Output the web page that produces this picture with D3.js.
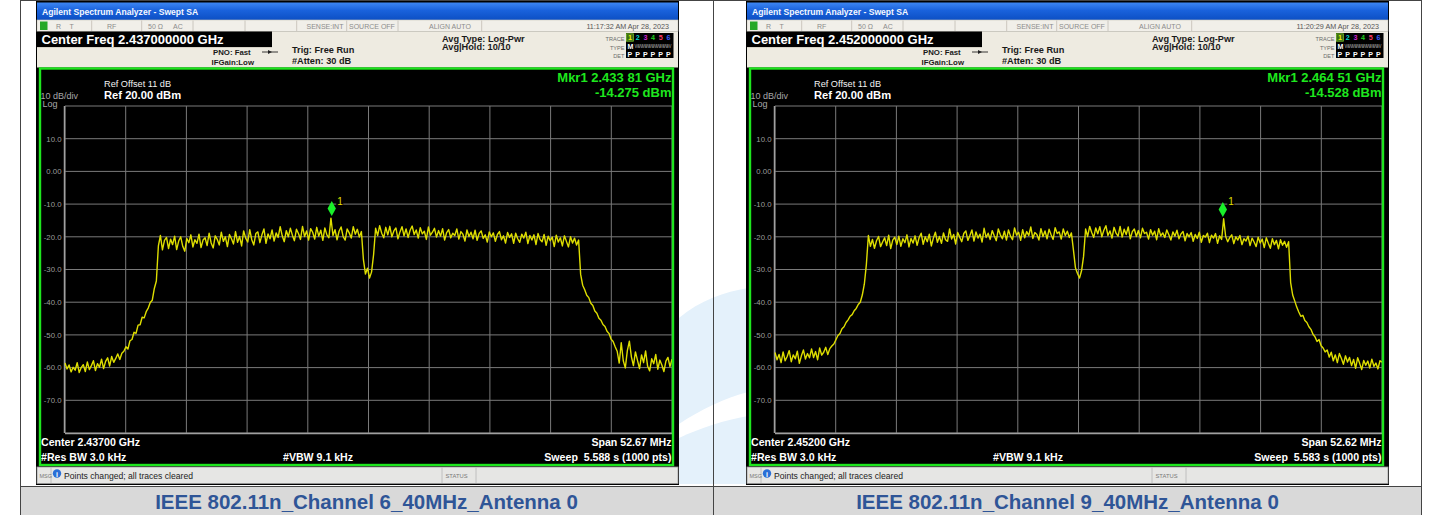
<!DOCTYPE html>
<html>
<head>
<meta charset="utf-8">
<script src="https://cdn.jsdelivr.net/npm/d3@7"></script>
<style>
  body { margin: 0; background: #fff; }
  text { font-family: "Liberation Sans", Arial, sans-serif; }
</style>
</head>
<body>
<svg id="chart"></svg>
<script>
// ---- data ----
var yTicks = [10, 0, -10, -20, -30, -40, -50, -60, -70]
var yTickLabels = ["10.0", "0.00", "-10.0", "-20.0", "-30.0", "-40.0", "-50.0", "-60.0", "-70.0"]
var captions = ["IEEE 802.11n_Channel 6_40MHz_Antenna 0", "IEEE 802.11n_Channel 9_40MHz_Antenna 0"]
var centerMHz = [2437, 2452]
var spanMHz = [52.67, 52.62]
var markerMHz = [2433.81, 2464.51]
var markerLabel = ["2.433 81 GHz", "2.464 51 GHz"]
var markerDbm = [-14.275, -14.528]
var clockText = ["11:17:32 AM Apr 28, 2023", "11:20:29 AM Apr 28, 2023"]
var sweepText = ["5.588 s (1000 pts)", "5.583 s (1000 pts)"]

// trace levels (dBm), evenly spaced across the span
var traceCh6 = [
  -58.6, -60.4, -59.2, -61.3, -59.9, -60.8, -58.5, -61.5, -60.0, -59.1,
  -61.2, -58.3, -60.6, -59.4, -57.9, -60.9, -58.8, -59.9, -57.4, -60.3,
  -58.1, -57.0, -59.5, -56.6, -58.4, -57.2, -55.8, -57.5, -55.6,
  -55.0, -53.6, -54.3, -51.8, -51.4, -49.2, -49.5, -47.0, -46.9, -44.6,
  -44.8, -42.9, -41.8, -40.1, -39.4, -35.8, -33.5,
  -22.8, -19.6, -24.0, -21.1, -20.2, -23.6, -20.7, -22.4, -19.8, -23.9,
  -21.3, -20.0, -22.9, -24.4, -20.5, -21.8, -19.4, -23.1, -20.9, -22.0,
  -19.2, -23.3, -21.0, -20.3, -22.7, -18.9, -21.9, -23.4, -19.7, -20.8,
  -22.5, -18.6, -21.4, -20.0, -23.0, -19.3, -20.6, -22.2, -18.4, -21.7,
  -19.9, -22.8, -18.2, -20.4, -21.6, -17.8, -20.9, -22.5, -19.0, -18.5,
  -21.8, -19.4, -17.6, -22.0, -19.1, -20.6, -17.9, -21.3, -18.8, -20.2,
  -16.9, -19.7, -21.5, -18.1, -20.0, -17.4, -19.5, -21.2, -17.7, -19.0,
  -20.8, -16.8, -19.9, -18.2, -21.0, -17.5, -18.6, -20.7, -17.1, -19.8,
  -18.0, -21.1, -17.3, -19.4, -20.3, -14.3, -19.6, -17.8, -20.9, -18.3,
  -17.0, -19.9, -21.0, -17.6, -18.8, -20.4, -16.9, -19.2, -17.7, -20.1, -18.4,
  -27.0, -31.4, -29.6, -32.6, -30.8, -25.5,
  -17.4, -19.6, -16.6, -18.9, -20.3, -17.1, -19.4, -16.8, -20.0, -18.2,
  -17.3, -20.6, -18.5, -16.9, -19.7, -17.6, -20.2, -18.0, -16.7, -19.3,
  -17.9, -20.4, -17.2, -19.1, -18.3, -20.8, -17.0, -19.5, -18.6, -17.4,
  -20.1, -18.1, -19.8, -17.5, -21.0, -18.7, -17.8, -20.3, -18.9, -19.6,
  -17.6, -20.7, -18.4, -19.2, -21.3, -17.9, -19.9, -18.6, -20.6, -18.0,
  -21.1, -19.0, -18.2, -20.5, -19.4, -21.6, -18.5, -20.0, -18.8, -21.4,
  -19.3, -18.4, -20.9, -19.7, -21.9, -18.7, -20.2, -19.1, -22.0, -18.9,
  -20.6, -21.7, -19.2, -20.4, -18.6, -22.1, -19.6, -21.0, -19.4, -22.4,
  -19.0, -20.8, -21.5, -19.3, -22.6, -19.8, -21.2, -20.1, -23.0, -19.5,
  -21.6, -20.3, -22.8, -19.7, -21.4, -23.1, -20.0, -21.9, -20.4, -22.5, -21.0,
  -31.5, -34.8, -36.2, -37.9, -38.6, -40.3, -41.0, -42.7, -43.4, -44.9,
  -45.5, -46.8, -47.4, -48.9, -49.6, -51.3, -52.0, -53.6,
  -55.0, -58.6, -52.4, -57.9, -60.1, -54.8, -51.9, -56.7, -59.4, -55.2,
  -57.8, -60.3, -56.1, -58.5, -54.9, -59.6, -61.0, -57.3, -58.8, -56.0,
  -60.5, -57.7, -59.2, -61.2, -58.0, -56.9, -59.7, -57.4
]
var traceCh9 = [
  -55.4, -57.6, -56.0, -58.5, -55.2, -57.9, -56.6, -54.8, -58.2, -56.1,
  -57.3, -55.0, -58.7, -56.4, -54.6, -57.4, -55.7, -57.0, -54.3, -56.9,
  -55.1, -57.6, -54.0, -56.2, -55.3, -53.8, -56.0, -54.2, -53.4,
  -52.8, -51.5, -50.2, -49.6, -48.1, -47.5, -46.2, -45.4, -44.3, -43.8,
  -42.6, -41.9, -40.7, -40.0, -37.8, -34.5, -28.5,
  -19.6, -22.9, -20.8, -23.5, -21.2, -19.9, -23.0, -21.6, -20.3, -22.7,
  -19.5, -23.6, -21.0, -20.1, -22.4, -19.8, -22.9, -20.6, -21.8, -19.4,
  -23.1, -20.5, -21.9, -19.7, -22.6, -20.2, -18.9, -22.3, -20.0, -21.5,
  -19.2, -22.8, -20.4, -18.6, -21.7, -19.9, -22.0, -18.8, -20.9, -21.4,
  -17.6, -20.7, -19.3, -22.2, -18.7, -20.1, -21.5, -19.0, -18.2, -21.1,
  -19.6, -17.9, -21.3, -18.5, -20.4, -19.2, -21.6, -17.4, -20.2, -18.9,
  -20.8, -18.1, -19.7, -21.2, -17.6, -19.4, -20.6, -18.3, -21.0, -17.9,
  -19.8, -20.9, -17.3, -19.5, -18.6, -21.1, -17.8, -20.3, -18.4, -19.6,
  -17.0, -20.5, -18.7, -19.3, -21.0, -17.5, -19.9, -18.2, -20.6, -17.7,
  -19.4, -20.8, -17.2, -19.0, -18.5, -20.7, -17.6, -19.6, -18.3, -20.2, -18.8,
  -24.0, -29.5, -31.2, -32.6, -30.4, -26.0,
  -17.6, -19.9, -16.8, -18.7, -20.2, -17.3, -19.1, -16.9, -20.0, -18.0,
  -16.6, -19.6, -18.2, -20.4, -17.1, -18.9, -19.8, -16.8, -20.1, -17.7,
  -19.3, -17.0, -20.6, -18.4, -17.6, -19.9, -18.1, -20.3, -17.4, -19.0,
  -18.6, -20.7, -17.8, -19.5, -18.3, -20.9, -17.5, -19.7, -18.8, -20.2,
  -17.9, -19.4, -21.0, -18.5, -19.8, -18.0, -20.6, -19.1, -18.4, -21.2,
  -19.0, -20.0, -18.7, -21.4, -19.3, -20.5, -18.6, -21.7, -19.6, -20.1,
  -18.9, -21.8, -19.5, -20.4, -19.0, -22.0, -19.7, -20.8, -14.5, -19.9,
  -21.5, -20.2, -19.4, -22.1, -20.0, -21.0, -19.6, -22.4, -20.6, -21.3,
  -19.8, -22.7, -20.4, -21.6, -23.0, -20.1, -21.9, -20.7, -23.3, -20.3,
  -22.0, -23.5, -20.6, -22.4, -21.1, -23.7, -20.9, -22.6, -21.4, -23.2, -21.5,
  -34.0, -37.8, -39.6, -41.5, -43.0, -44.3, -44.0, -45.6, -46.2, -47.5,
  -48.3, -49.8, -50.6, -52.0, -51.4, -53.3, -54.0, -55.2,
  -54.6, -56.8, -55.3, -57.9, -56.1, -58.5, -55.7, -57.2, -59.0, -56.4,
  -58.3, -56.9, -59.4, -57.5, -60.2, -57.0, -58.7, -60.6, -57.8, -59.3,
  -58.0, -60.1, -57.4, -59.6, -58.6, -60.4, -57.9, -58.3
]
var traces = [traceCh6, traceCh9]

var W = 1432, H = 515
var svg = d3.select("#chart").attr("width", W).attr("height", H)
svg.append("rect").attr("width", W).attr("height", H).attr("fill", "#fff")

// faint watermark between the two screenshots
svg.append("path")
   .attr("d", "M679,318 C700,300 725,292 748,288 L748,392 C725,398 700,410 679,424 Z")
   .attr("fill", "#e4f1fb")
svg.append("path")
   .attr("d", "M679,438 C700,428 725,420 748,416 L748,484 L679,484 Z")
   .attr("fill", "#e4f1fb")

// caption row
var cells = [{x: 20, w: 693}, {x: 713, w: 709}]
cells.forEach(function(c, k) {
  svg.append("rect").attr("x", c.x).attr("y", 487).attr("width", c.w).attr("height", 28)
     .attr("fill", "#d9d9d9")
  svg.append("text").attr("x", c.x + c.w / 2).attr("y", 509)
     .attr("text-anchor", "middle").attr("font-size", 20.5).attr("font-weight", "bold")
     .attr("fill", "#2f5597").text(captions[k])
})
// table borders
var bc = "#444"
;[20.5, 713.5, 1421.5].forEach(function(x) {
  svg.append("line").attr("x1", x).attr("x2", x).attr("y1", 0).attr("y2", H)
     .attr("stroke", bc).attr("stroke-width", 1)
})
;[0.5, 486.5].forEach(function(y) {
  svg.append("line").attr("x1", 20).attr("x2", 1422).attr("y1", y).attr("y2", y)
     .attr("stroke", bc).attr("stroke-width", 1)
})

var drawPanel = function(k)
{
  var g = svg.append("g").attr("transform", "translate(" + (k * 710) + ",0)")

  // screenshot body
  g.append("rect").attr("x", 36).attr("y", 1).attr("width", 643).attr("height", 484).attr("fill", "#000")

  // window title bar
  var gid = "tb" + k
  var grad = svg.append("defs").append("linearGradient").attr("id", gid)
                .attr("x1", 0).attr("x2", 0).attr("y1", 0).attr("y2", 1)
  grad.append("stop").attr("offset", "0%").attr("stop-color", "#3d86f2")
  grad.append("stop").attr("offset", "45%").attr("stop-color", "#1a62dc")
  grad.append("stop").attr("offset", "100%").attr("stop-color", "#0c4fc4")
  g.append("rect").attr("x", 37).attr("y", 2.5).attr("width", 641).attr("height", 17.5)
   .attr("fill", "url(#" + gid + ")")
  g.append("text").attr("x", 42).attr("y", 15).attr("font-size", 8.6).attr("font-weight", "bold")
   .attr("fill", "#f4f8ff").text("Agilent Spectrum Analyzer - Swept SA")

  // status row
  g.append("rect").attr("x", 37).attr("y", 20).attr("width", 641).attr("height", 11.5)
   .attr("fill", "#f1efe9").attr("stroke", "#c9c5bb").attr("stroke-width", 0.6)
  ;[91.7, 141.7, 193, 245, 296.7, 346.7, 398, 481.7].forEach(function(x) {
    g.append("line").attr("x1", x).attr("x2", x).attr("y1", 20.5).attr("y2", 31)
     .attr("stroke", "#c2bdb2").attr("stroke-width", 0.8)
  })
  g.append("rect").attr("x", 40).attr("y", 21.5).attr("width", 7.5).attr("height", 8.5).attr("fill", "#27a827")
  var st = [["R", 56], ["T", 69.5], ["RF", 107], ["50 Ω", 148], ["AC", 173], ["SENSE:INT", 306.5],
            ["SOURCE OFF", 349], ["ALIGN AUTO", 429]]
  st.forEach(function(s) {
    g.append("text").attr("x", s[1]).attr("y", 28.8).attr("font-size", 7).attr("fill", "#8c8c8c").text(s[0])
  })
  g.append("text").attr("x", 669).attr("y", 28.8).attr("text-anchor", "end").attr("font-size", 7.2)
   .attr("fill", "#555").text(clockText[k])

  // settings panel
  g.append("rect").attr("x", 37).attr("y", 31.5).attr("width", 641).attr("height", 36)
   .attr("fill", "#eeebe1")
  g.append("rect").attr("x", 37).attr("y", 31.5).attr("width", 235).attr("height", 15.5).attr("fill", "#000")
  g.append("text").attr("x", 41.5).attr("y", 44.3).attr("font-size", 13).attr("font-weight", "bold")
   .attr("fill", "#fff").text("Center Freq " + (centerMHz[k] / 1000).toFixed(9) + " GHz")
  g.append("line").attr("x1", 37).attr("x2", 272).attr("y1", 47.5).attr("y2", 47.5)
   .attr("stroke", "#d6d2c6").attr("stroke-width", 1)
  var hd = [["PNO: Fast", 213, 55, 7.8], ["IFGain:Low", 211.5, 65, 7.8],
            ["Trig: Free Run", 292, 53.3, 9.2], ["#Atten: 30 dB", 292, 63.5, 9.2],
            ["Avg Type: Log-Pwr", 442, 41.5, 9.2], ["Avg|Hold: 10/10", 442, 50.3, 9.2]]
  hd.forEach(function(s) {
    g.append("text").attr("x", s[1]).attr("y", s[2]).attr("font-size", s[3]).attr("font-weight", "bold")
     .attr("fill", "#1a1a1a").text(s[0])
  })
  g.append("line").attr("x1", 262).attr("x2", 278).attr("y1", 52).attr("y2", 52).attr("stroke", "#222").attr("stroke-width", 0.9)
  g.append("path").attr("d", "M268,50 L272,52 L268,54 Z").attr("fill", "#222")
  ;[["TRACE", 40.5], ["TYPE", 49.5], ["DET", 58.3]].forEach(function(s) {
    g.append("text").attr("x", 624.5).attr("y", s[1]).attr("text-anchor", "end").attr("font-size", 5.6)
     .attr("fill", "#6c6c6c").text(s[0])
  })
  g.append("rect").attr("x", 626).attr("y", 33).attr("width", 47.5).attr("height", 25).attr("fill", "#000")
  g.append("rect").attr("x", 626.5).attr("y", 33.8).attr("width", 7).attr("height", 7.4)
   .attr("fill", "#3d6b18").attr("stroke", "#7fcf2a").attr("stroke-width", 0.7)
  var tc = ["#f0f000", "#00d6d6", "#d020d0", "#20d020", "#ff3a6a", "#3a5cff"]
  tc.forEach(function(c, i) {
    g.append("text").attr("x", 628 + i * 7.7).attr("y", 40.3).attr("font-size", 7.2).attr("font-weight", "bold")
     .attr("fill", c).text(i + 1)
    g.append("text").attr("x", 627.5 + i * 7.7).attr("y", 56.6).attr("font-size", 7).attr("font-weight", "bold")
     .attr("fill", "#fff").text("P")
  })
  g.append("text").attr("x", 627.5).attr("y", 48.5).attr("font-size", 7).attr("font-weight", "bold")
   .attr("fill", "#fff").text("M")
  g.append("text").attr("x", 634.5).attr("y", 48).attr("font-size", 5.2).attr("fill", "#9a9a9a")
   .attr("textLength", 37).text("WWWWWWWWWW")

  // plot scales
  var f0 = centerMHz[k] - spanMHz[k] / 2, f1 = centerMHz[k] + spanMHz[k] / 2
  var x = d3.scaleLinear().domain([f0, f1]).range([65, 672])
  var y = d3.scaleLinear().domain([-80, 20]).range([433, 106])

  // grid
  var grid = g.append("g")
  grid.selectAll("line.v").data(d3.range(11)).enter().append("line")
      .attr("x1", function(d) { return x(f0 + d * spanMHz[k] / 10) })
      .attr("x2", function(d) { return x(f0 + d * spanMHz[k] / 10) })
      .attr("y1", y(20)).attr("y2", y(-80)).attr("stroke", "#7a7a7a").attr("stroke-width", 1)
  grid.selectAll("line.h").data(d3.range(-80, 21, 10)).enter().append("line")
      .attr("x1", x(f0)).attr("x2", x(f1))
      .attr("y1", function(d) { return y(d) }).attr("y2", function(d) { return y(d) })
      .attr("stroke", "#7a7a7a").attr("stroke-width", 1)
  g.append("line").attr("x1", x(f0)).attr("x2", x(f1)).attr("y1", y(-80) + 0.5).attr("y2", y(-80) + 0.5)
   .attr("stroke", "#a0a0a0").attr("stroke-width", 1.5)
  g.append("line").attr("x1", x(f0) - 0.5).attr("x2", x(f0) - 0.5).attr("y1", y(20)).attr("y2", y(-80))
   .attr("stroke", "#a0a0a0").attr("stroke-width", 1.5)

  // y labels
  g.selectAll("text.yl").data(yTicks).enter().append("text")
   .attr("x", 61.5).attr("y", function(d) { return y(d) + 2.8 })
   .attr("text-anchor", "end").attr("font-size", 7.8).attr("fill", "#9c9c9c")
   .text(function(d, i) { return yTickLabels[i] })

  // trace
  var pts = traces[k]
  var n = pts.length
  var line = d3.line()
               .x(function(d, i) { return x(f0 + i * spanMHz[k] / (n - 1)) })
               .y(function(d) { return y(d) })
  g.append("path").datum(pts).attr("d", line).attr("fill", "none")
   .attr("stroke", "#dede00").attr("stroke-width", 1.4).attr("stroke-linejoin", "round")

  // marker
  var mx = x(markerMHz[k]), my = y(markerDbm[k])
  g.append("path").attr("d", "M" + mx + "," + (my - 17) + " L" + (mx + 4.2) + "," + (my - 9.5) +
                             " L" + mx + "," + (my - 2) + " L" + (mx - 4.2) + "," + (my - 9.5) + " Z")
   .attr("fill", "#19f02a")
  g.append("rect").attr("x", mx + 4.5).attr("y", my - 22).attr("width", 7).attr("height", 10).attr("fill", "#000")
  g.append("text").attr("x", mx + 5.5).attr("y", my - 13.5).attr("font-size", 10).attr("fill", "#e0e000").text("1")

  // readouts
  g.append("text").attr("x", 104).attr("y", 87).attr("font-size", 9.2).attr("fill", "#f2f2f2").text("Ref Offset 11 dB")
  g.append("text").attr("x", 104).attr("y", 98.6).attr("font-size", 11.2).attr("font-weight", "bold")
   .attr("fill", "#fff").text("Ref 20.00 dBm")
  g.append("text").attr("x", 40.5).attr("y", 98.6).attr("font-size", 9).attr("fill", "#a8a8a8").text("10 dB/div")
  g.append("text").attr("x", 42.5).attr("y", 106.5).attr("font-size", 9).attr("fill", "#a8a8a8").text("Log")
  g.append("text").attr("x", 671.5).attr("y", 82).attr("text-anchor", "end").attr("font-size", 13)
   .attr("font-weight", "bold").attr("fill", "#1ee81e").text("Mkr1 " + markerLabel[k])
  g.append("text").attr("x", 671.5).attr("y", 97).attr("text-anchor", "end").attr("font-size", 13)
   .attr("font-weight", "bold").attr("fill", "#1ee81e").text(markerDbm[k].toFixed(3) + " dBm")

  // footer
  var ft = [["Center " + (centerMHz[k] / 1000).toFixed(5) + " GHz", 41, 446, "start"],
            ["Span " + spanMHz[k].toFixed(2) + " MHz", 671.5, 446, "end"],
            ["#Res BW 3.0 kHz", 41, 460.5, "start"],
            ["#VBW 9.1 kHz", 283, 460.5, "start"],
            ["Sweep  " + sweepText[k], 671.5, 460.5, "end"]]
  ft.forEach(function(s) {
    g.append("text").attr("x", s[1]).attr("y", s[2]).attr("text-anchor", s[3]).attr("font-size", 10.6)
     .attr("font-weight", "bold").attr("fill", "#fff").attr("xml:space", "preserve").text(s[0])
  })

  // green screen frame
  g.append("rect").attr("x", 40).attr("y", 68.5).attr("width", 633).attr("height", 396.5)
   .attr("fill", "none").attr("stroke", "#1ee61e").attr("stroke-width", 2.4)

  // message bar
  g.append("rect").attr("x", 37).attr("y", 467).attr("width", 641).attr("height", 16.5)
   .attr("fill", "#e6e6e4").attr("stroke", "#9a9a9a").attr("stroke-width", 0.8)
  ;[51, 442, 476].forEach(function(xx) {
    g.append("line").attr("x1", xx).attr("x2", xx).attr("y1", 467.5).attr("y2", 483)
     .attr("stroke", "#b5b5b5").attr("stroke-width", 0.8)
  })
  g.append("text").attr("x", 39.5).attr("y", 478).attr("font-size", 5.5).attr("fill", "#777").text("MSG")
  g.append("circle").attr("cx", 57).attr("cy", 473.5).attr("r", 4.2).attr("fill", "#2a6fd6")
  g.append("text").attr("x", 57).attr("y", 476.5).attr("text-anchor", "middle").attr("font-size", 7)
   .attr("font-weight", "bold").attr("fill", "#fff").text("i")
  g.append("text").attr("x", 64).attr("y", 479).attr("font-size", 8.6).attr("fill", "#222")
   .text("Points changed; all traces cleared")
  g.append("text").attr("x", 445.5).attr("y", 477.5).attr("font-size", 5.8).attr("fill", "#777").text("STATUS")
}

drawPanel(0)
drawPanel(1)
</script>
</body>
</html>
